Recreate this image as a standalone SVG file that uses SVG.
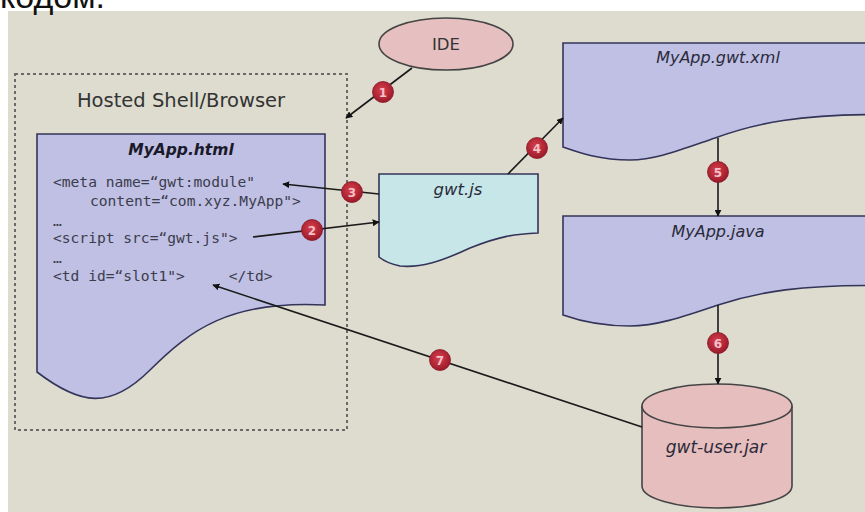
<svg xmlns="http://www.w3.org/2000/svg" width="865" height="512" viewBox="0 0 865 512">
<style>
.doc{stroke:#34345a;stroke-width:1.6}
.lbl{font-family:"DejaVu Sans",sans-serif;fill:#2a2a3a;text-anchor:middle;font-style:italic}
.code{font-family:"DejaVu Sans Mono",monospace;font-size:14.6px;fill:#3c3c4c;white-space:pre}
.con{stroke:#1a1a1a;stroke-width:1.6;fill:none}
.badge circle{fill:url(#bg);stroke:#8a1828;stroke-width:0.8}
.badge text{font-family:"DejaVu Sans",sans-serif;font-size:12px;font-weight:bold;fill:#f4c0c8;text-anchor:middle}
</style>
<defs>
<radialGradient id="bg" cx="45%" cy="40%" r="60%">
<stop offset="0" stop-color="#d8404c"/>
<stop offset="1" stop-color="#9a1a2a"/>
</radialGradient>
<marker id="ah" viewBox="0 0 10 10" refX="9" refY="5" markerWidth="7" markerHeight="7" markerUnits="userSpaceOnUse" orient="auto">
<path d="M0,0 L10,5 L0,10 z" fill="#111"/>
</marker>
</defs>
<rect x="0" y="0" width="865" height="512" fill="#ffffff"/>
<rect x="8" y="11" width="857" height="501" fill="#dddccf"/>
<text x="0" y="8" font-family="Liberation Sans, sans-serif" font-size="34" fill="#111">кодом.</text>

<g id="hosted">
<rect x="15" y="74" width="332" height="356" fill="none" stroke="#6a6a6a" stroke-width="2" stroke-dasharray="3,3"/>
<text x="181" y="107" font-family="DejaVu Sans, sans-serif" font-size="19.5" fill="#333" text-anchor="middle">Hosted Shell/Browser</text>
</g>

<g id="myapp-html">
<path class="doc" fill="#bfc0e4" d="M37,134 H325 V305 C230,300 190,330 150,370 S80,405 37,372 Z"/>
<text x="181" y="155" font-family="DejaVu Sans, sans-serif" font-size="15.5" font-weight="bold" font-style="italic" fill="#1a1a2a" text-anchor="middle">MyApp.html</text>
<text class="code" x="53" y="187">&lt;meta name=“gwt:module"</text>
<text class="code" x="90" y="206">content=“com.xyz.MyApp"&gt;</text>
<text class="code" x="53" y="226">…</text>
<text class="code" x="53" y="243">&lt;script src=“gwt.js"&gt;</text>
<text class="code" x="53" y="263">…</text>
<text class="code" x="53" y="281" xml:space="preserve">&lt;td id=“slot1"&gt;     &lt;/td&gt;</text>
</g>

<g id="ide">
<ellipse cx="446" cy="44" rx="67" ry="26" fill="#e6c0c0" stroke="#444" stroke-width="1.6"/>
<text x="446" y="50" font-family="DejaVu Sans, sans-serif" font-size="16.5" fill="#333" text-anchor="middle">IDE</text>
</g>

<g id="gwt-js">
<path class="doc" fill="#c6e6e8" d="M379,174 H538 V233 C515,234 500,236 470,248 C440,262 420,268 400,266 C390,264 384,261 379,257 Z"/>
<text class="lbl" x="458" y="195" font-size="16.5">gwt.js</text>
</g>

<g id="myapp-gwt-xml">
<path class="doc" fill="#bfc0e4" d="M563,43 H900 V115 C800,112 750,125 715,138 C680,150 655,160 630,160 C600,160 580,153 563,147 Z"/>
<text class="lbl" x="718" y="63" font-size="16">MyApp.gwt.xml</text>
</g>

<g id="myapp-java">
<path class="doc" fill="#bfc0e4" d="M563,216 H900 V286 C800,283 755,293 718,305 C680,318 655,326 630,326 C600,326 580,321 563,315 Z"/>
<text class="lbl" x="718" y="237" font-size="16">MyApp.java</text>
</g>

<g id="gwt-user-jar">
<path d="M642,406 V486 A75,22 0 0 0 792,486 V406" fill="#e6bebe" stroke="#444" stroke-width="1.6"/>
<ellipse cx="717" cy="406" rx="75" ry="22" fill="#e6bebe" stroke="#444" stroke-width="1.6"/>
<text class="lbl" x="716" y="453" font-size="17">gwt-user.jar</text>
</g>

<g id="connectors">
<line class="con" x1="412" y1="68" x2="346" y2="118" marker-end="url(#ah)"/>
<line class="con" x1="253" y1="237" x2="379" y2="222" marker-end="url(#ah)"/>
<line class="con" x1="379" y1="194" x2="283" y2="184" marker-end="url(#ah)"/>
<line class="con" x1="508" y1="174" x2="563" y2="118" marker-end="url(#ah)"/>
<line class="con" x1="718" y1="138" x2="718" y2="216" marker-end="url(#ah)"/>
<line class="con" x1="718" y1="305" x2="718" y2="384" marker-end="url(#ah)"/>
<line class="con" x1="642" y1="427" x2="213" y2="285" marker-end="url(#ah)"/>
<g class="badge"><circle cx="383" cy="92" r="10.5"/><text x="383" y="96.5">1</text></g>
<g class="badge"><circle cx="312" cy="230" r="10.5"/><text x="312" y="234.5">2</text></g>
<g class="badge"><circle cx="352" cy="192" r="10.5"/><text x="352" y="196.5">3</text></g>
<g class="badge"><circle cx="537" cy="148" r="10.5"/><text x="537" y="152.5">4</text></g>
<g class="badge"><circle cx="718" cy="172" r="10.5"/><text x="718" y="176.5">5</text></g>
<g class="badge"><circle cx="718" cy="343" r="10.5"/><text x="718" y="347.5">6</text></g>
<g class="badge"><circle cx="440" cy="360" r="10.5"/><text x="440" y="364.5">7</text></g>
</g>
</svg>
